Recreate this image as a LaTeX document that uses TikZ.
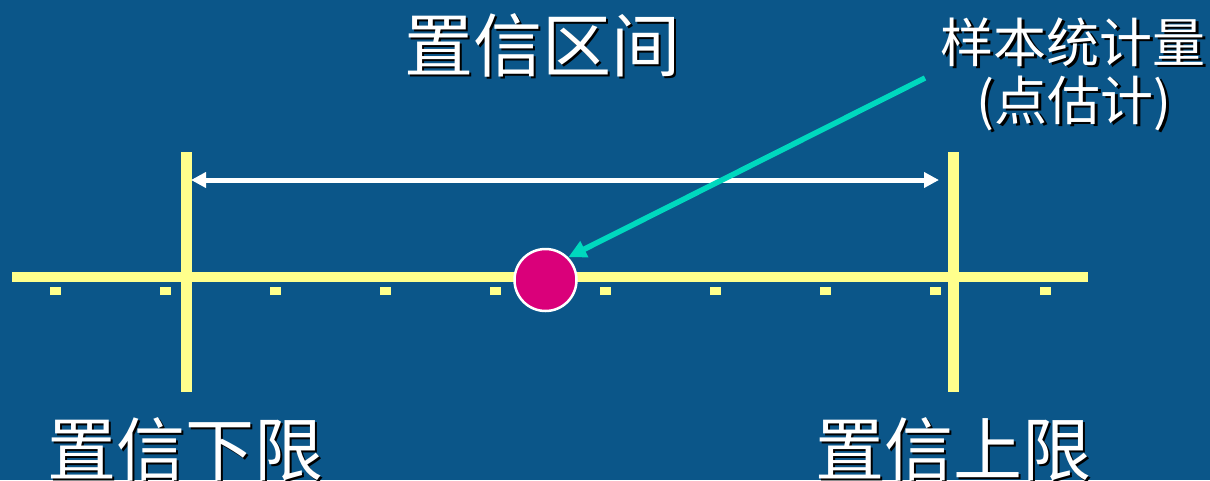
\documentclass[tikz,border=0pt]{standalone}
\usepackage{fontspec}
\newfontfamily\cjk{Noto Sans CJK SC}
\usetikzlibrary{arrows.meta,calc}
\definecolor{bg}{RGB}{11,86,137}
\definecolor{axis}{RGB}{255,255,140}
\definecolor{dot}{RGB}{218,0,122}
\definecolor{pointer}{RGB}{0,216,190}
\tikzset{
  lbl/.style={text=white,font=\cjk,inner sep=0pt},
  shadow/.style={text=black,font=\cjk,inner sep=0pt},
  tick/.style={fill=axis,draw=none},
}
\newcommand{\shtext}[4]{%
  \node[shadow,font=\cjk\fontsize{#3}{#3}\selectfont] at ($(#1)+(2.5,2.5)$) {#4};
  \node[lbl,font=\cjk\fontsize{#3}{#3}\selectfont] (#2) at (#1) {#4};}
\begin{document}
\begin{tikzpicture}[x=1pt,y=-1pt]
\useasboundingbox (0,0) rectangle (1210,480);
\fill[bg] (0,0) rectangle (1210,480);
% axis
\coordinate (axL) at (12,277);
\coordinate (axR) at (1088,277);
\draw[axis,line width=10pt] (axL) -- (axR);
% ticks
\foreach \i in {0,...,9}{
  \fill[tick] ({49.5+110*\i},287) rectangle ++(11,8);
}
% vertical limits
\coordinate (lt) at (186,152);
\coordinate (lb) at (186,392);
\coordinate (rt) at (953.5,152);
\coordinate (rb) at (953.5,392);
\draw[axis,line width=11pt] (lt) -- (lb);
\draw[axis,line width=11pt] (rt) -- (rb);
% interval arrow
\coordinate (ia) at (191,180);
\coordinate (ib) at (939,180);
\draw[white,line width=5pt,{Triangle[length=15pt,width=15pt]}-{Triangle[length=15pt,width=15pt]}] (ia) -- (ib);
% point
\node[circle,fill=dot,draw=white,line width=2.5pt,minimum size=62pt,inner sep=0pt] (pt) at (545.5,280) {};
% pointer arrow
\coordinate (ps) at (925,78);
\draw[pointer,line width=5.5pt,-{Triangle[length=18pt,width=17pt]}] (ps) -- (pt.north east);
% texts
\shtext{542,45}{title}{69}{置信区间}
\shtext{1073,42}{stat}{53}{样本统计量}
\shtext{1074,103}{pe}{53}{(点估计)}
\shtext{185,449}{low}{69}{置信下限}
\shtext{953,449}{up}{69}{置信上限}
\end{tikzpicture}
\end{document}
